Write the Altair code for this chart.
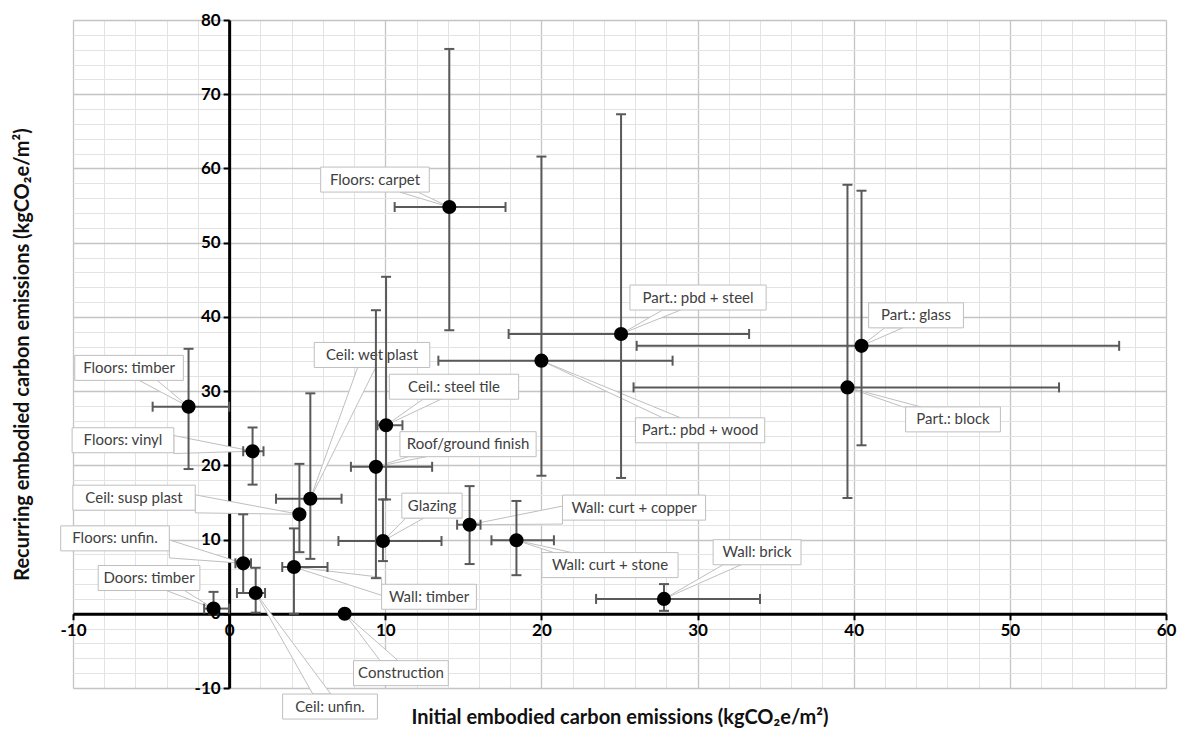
import math
import altair as alt
import pandas as pd

# ---------------- data ----------------
names = ["Floors: carpet", "Part.: pbd + steel", "Part.: glass", "Part.: block",
         "Part.: pbd + wood", "Floors: timber", "Floors: vinyl", "Ceil: wet plast",
         "Ceil.: steel tile", "Roof/ground finish", "Ceil: susp plast", "Glazing",
         "Wall: curt + copper", "Wall: curt + stone", "Wall: brick", "Floors: unfin.",
         "Ceil: unfin.", "Doors: timber", "Wall: timber", "Construction"]
initial = [14.1, 25.1, 40.5, 39.6, 20.0, -2.6, 1.5, 5.2, 10.05, 9.4,
           4.5, 9.85, 15.4, 18.4, 27.85, 0.9, 1.7, -1.0, 4.15, 7.4]
recurring = [54.8, 37.7, 36.1, 30.5, 34.1, 27.9, 21.9, 15.5, 25.4, 19.8,
             13.4, 9.8, 12.0, 9.9, 2.0, 6.8, 2.8, 0.7, 6.3, 0.0]
init_lo = [10.6, 17.9, 26.1, 25.9, 13.4, -4.9, 0.9, 3.0, 9.5, 7.8,
           None, 7.0, 14.6, 16.8, 23.5, 0.4, 0.5, -1.6, 3.4, None]
init_hi = [17.7, 33.3, 57.0, 53.15, 28.4, 0.0, 2.2, 7.2, 11.1, 13.0,
           None, 13.6, 16.1, 20.8, 34.0, 1.4, 2.3, 0.0, 6.3, None]
rec_lo = [38.2, 18.3, 22.7, 15.6, 18.6, 19.5, 17.4, 7.4, 15.4, 4.8,
          8.3, 7.1, 6.7, 5.2, 0.4, 2.8, 0.15, 0.0, 0.0, None]
rec_hi = [76.1, 67.3, 57.0, 57.8, 61.6, 35.7, 25.1, 29.7, 45.4, 40.9,
          20.2, 15.4, 17.2, 15.2, 4.0, 13.4, 6.2, 2.95, 11.5, None]
label_x = [9.34, 30.03, 43.99, 46.36, 30.16, -6.41, -6.8, 9.15, 14.4, 15.3,
           -6.09, 12.99, 25.93, 24.39, 33.81, -7.31, 6.46, -5.13, 12.8, 11.0]
label_y = [58.5, 42.61, 40.21, 26.19, 24.72, 33.13, 23.38, 34.87, 30.59, 22.85,
           15.64, 14.57, 14.3, 6.56, 8.29, 10.16, -12.5, 4.82, 2.29, -8.0]

x_ticks = list(range(-10, 61, 2))
y_ticks = list(range(-10, 81, 2))

# ---------------- layout ----------------
W, H = 1093, 668
XMIN, XMAX, YMIN, YMAX = -10, 60, -10, 80
sx = W / (XMAX - XMIN)
sy = H / (YMAX - YMIN)
x_zero_px = (0 - XMIN) * sx
y_zero_px = (YMAX - 0) * sy

FONT = "Lato"
BOX_H = 25.0
HALF_BASE = 9.0


def box_w(t):
    return 6.9 * len(t) + 12


pts = pd.DataFrame({"name": names, "x": initial, "y": recurring})

xerr = pd.DataFrame([
    {"y": recurring[i], "lo": init_lo[i], "hi": init_hi[i]}
    for i in range(len(names)) if init_lo[i] is not None
])
yerr = pd.DataFrame([
    {"x": initial[i], "lo": rec_lo[i], "hi": rec_hi[i]}
    for i in range(len(names)) if rec_lo[i] is not None
])
xcaps = pd.DataFrame([{"y": r["y"], "v": r[k]} for _, r in xerr.iterrows() for k in ("lo", "hi")])
ycaps = pd.DataFrame([{"x": r["x"], "v": r[k]} for _, r in yerr.iterrows() for k in ("lo", "hi")])

boxes, wv, wh = [], [], []
for i, t in enumerate(names):
    lx, ly, x, y = label_x[i], label_y[i], initial[i], recurring[i]
    hw, hh = box_w(t) / 2, BOX_H / 2
    boxes.append({"name": t, "cx": lx, "cy": ly,
                  "x1": lx - hw / sx, "x2": lx + hw / sx,
                  "y1": ly - hh / sy, "y2": ly + hh / sy})
    dxp, dyp = (x - lx) * sx, (y - ly) * sy
    tx = hw / abs(dxp) if dxp else math.inf
    ty = hh / abs(dyp) if dyp else math.inf
    if tx < ty:
        ex = lx + math.copysign(hw, dxp) / sx
        ey = ly + dyp * tx / sy
        wv.append({"name": t, "x": ex, "y": ey - HALF_BASE / sy, "y2": ey + HALF_BASE / sy})
        wv.append({"name": t, "x": x, "y": y, "y2": y})
    else:
        ey = ly + math.copysign(hh, dyp) / sy
        ex = lx + dxp * ty / sx
        wh.append({"name": t, "y": ey, "x": ex - HALF_BASE / sx, "x2": ex + HALF_BASE / sx})
        wh.append({"name": t, "y": y, "x": x, "x2": x})
boxes = pd.DataFrame(boxes)
wv = pd.DataFrame(wv)
wh = pd.DataFrame(wh)

major = "datum.value % 10 === 0"
xs = alt.Scale(domain=[XMIN, XMAX], nice=False, zero=False)
ys = alt.Scale(domain=[YMIN, YMAX], nice=False, zero=False)

common_axis = dict(
    labelExpr=f"{major} ? replace(datum.label, '\u2212', '-') : ''",
    labelFont=FONT, labelFontSize=17, labelFontWeight="bold", labelColor="#000000",
    labelOverlap=False, labelFlush=False, labelPadding=3,
    domainColor="#000000", domainWidth=3,
    tickColor="#000000", tickWidth=2, tickSize=6,
    tickOpacity={"condition": {"test": major, "value": 1}, "value": 0},
    gridColor={"condition": {"test": major, "value": "#c4c4c4"}, "value": "#e3e3e3"},
    gridWidth={"condition": {"test": major, "value": 1.3}, "value": 1},
    titleFont=FONT, titleFontSize=20, titleFontWeight="bold", titleColor="#111111",
    titleBaseline="middle",
)
x_axis = alt.Axis(values=x_ticks, orient="bottom", offset=-(H - y_zero_px),
                  title="Initial embodied carbon emissions (kgCO₂e/m²)",
                  titleY=104, **common_axis)
y_axis = alt.Axis(values=y_ticks, orient="left", offset=-x_zero_px,
                  title="Recurring embodied carbon emissions (kgCO₂e/m²)",
                  titleX=-207, **common_axis)


def X(field):
    return alt.X(field, type="quantitative", scale=xs, axis=x_axis)


def Y(field):
    return alt.Y(field, type="quantitative", scale=ys, axis=y_axis)


wedge_v = alt.Chart(wv).mark_area(orient="vertical", fill="white", stroke="#bfbfbf",
                                  strokeWidth=1).encode(
    x=X("x"), y=Y("y"), y2="y2:Q", detail="name:N",
)
wedge_h = alt.Chart(wh).mark_area(orient="horizontal", fill="white", stroke="#bfbfbf",
                                  strokeWidth=1).encode(
    y=Y("y"), x=X("x"), x2="x2:Q", detail="name:N",
)
box_layer = alt.Chart(boxes).mark_rect(fill="white", stroke="#bfbfbf", strokeWidth=1).encode(
    x=X("x1"), x2="x2:Q", y=Y("y1"), y2="y2:Q",
)
text_layer = alt.Chart(boxes).mark_text(font=FONT, fontSize=15, color="#404040",
                                        align="center", baseline="middle").encode(
    x=X("cx"), y=Y("cy"), text="name:N",
)
ebar = "#595959"
xerr_layer = alt.Chart(xerr).mark_rule(color=ebar, strokeWidth=2).encode(
    x=X("lo"), x2="hi:Q", y=Y("y"),
)
yerr_layer = alt.Chart(yerr).mark_rule(color=ebar, strokeWidth=2).encode(
    y=Y("lo"), y2="hi:Q", x=X("x"),
)
xcap_layer = alt.Chart(xcaps).mark_tick(orient="vertical", color=ebar, size=10,
                                        thickness=2, opacity=1).encode(
    x=X("v"), y=Y("y"),
)
ycap_layer = alt.Chart(ycaps).mark_tick(orient="horizontal", color=ebar, size=10,
                                        thickness=2, opacity=1).encode(
    x=X("x"), y=Y("v"),
)
point_layer = alt.Chart(pts).mark_circle(size=200, color="#000000", opacity=1).encode(
    x=X("x"), y=Y("y"),
)

chart = alt.layer(
    wedge_v, wedge_h, box_layer, text_layer,
    xerr_layer, yerr_layer, xcap_layer, ycap_layer, point_layer,
).properties(
    width=W, height=H,
    autosize=alt.AutoSizeParams(type="none"),
    padding={"left": 65, "top": 12, "right": 12, "bottom": 40},
    background="white",
).configure_view(strokeWidth=0)

chart.save("out.html", embed_options={"renderer": "svg", "actions": False})
